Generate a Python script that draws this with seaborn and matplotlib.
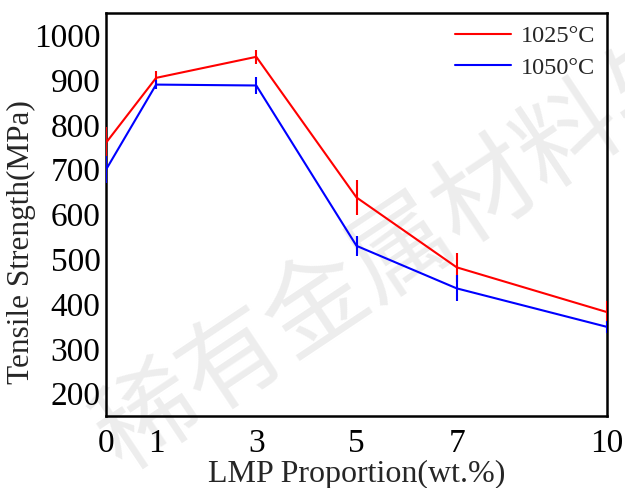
import matplotlib
matplotlib.use("Agg")
import matplotlib.pyplot as plt
import seaborn as sns
import pandas as pd

# LMP content (wt.%) and tensile strength (MPa) at two sintering temperatures
lmp = [0, 1, 3, 5, 7, 10]
ts_1025 = [760, 905, 952, 638, 482, 382]
err_1025 = [35, 15, 15, 40, 32, 25]
ts_1050 = [700, 890, 888, 530, 435, 349]
err_1050 = [30, 10, 19, 23, 29, 13]
series = ["1025°C", "1050°C"]
colors = ["#ff0000", "#0000ff"]
xticks = [0, 1, 3, 5, 7, 10]
yticks = [200, 300, 400, 500, 600, 700, 800, 900, 1000]

df = pd.DataFrame({
    "lmp": lmp * 2,
    "ts": ts_1025 + ts_1050,
    "err": err_1025 + err_1050,
    "temp": [series[0]] * len(lmp) + [series[1]] * len(lmp),
})

sns.set_style("white")
plt.rcParams["font.family"] = ["Liberation Serif", "DejaVu Serif"]

fig = plt.figure(figsize=(6.25, 4.88), dpi=100)
ax = fig.add_axes([0.1696, 0.1475, 0.8016, 0.826])
ax.patch.set_alpha(0)
ax.set_zorder(2)

# faint journal watermark behind the data
fig.text(402 / 625, 1 - 250 / 488, "稀有金属材料与", fontsize=73,
         family=["Noto Sans CJK SC"], weight="normal", color="#ededed",
         rotation=33.7, rotation_mode="anchor", ha="center", va="center",
         zorder=-5)

sns.lineplot(data=df, x="lmp", y="ts", hue="temp", palette=colors,
             linewidth=1.5, ax=ax, zorder=3)
for name, c in zip(series, colors):
    sub = df[df["temp"] == name]
    ax.errorbar(sub["lmp"], sub["ts"], yerr=sub["err"], fmt="none",
                ecolor=c, elinewidth=1.5, capsize=0, zorder=3)

ax.set_xlim(0, 10)
ax.set_ylim(150, 1050)
ax.set_xticks(xticks)
ax.set_yticks(yticks)
ax.tick_params(axis="both", direction="in", length=6, width=1.5,
               labelsize=24, colors="black", top=False, right=False)
ax.tick_params(axis="x", pad=9)
ax.tick_params(axis="y", pad=4)
for s in ax.spines.values():
    s.set_color("black")
    s.set_linewidth(1.8)

ax.set_xlabel("LMP Proportion(wt.%)", fontsize=23, labelpad=0.5)
ax.set_ylabel("Tensile Strength(MPa)", fontsize=22.5, va="center")
ax.yaxis.set_label_coords(-0.168, 0.432)

leg = ax.legend(loc="upper right", frameon=False, fontsize=17.5,
                handlelength=2.3, handletextpad=0.4, labelspacing=0.4,
                borderaxespad=0.1)
for h in leg.get_lines():
    h.set_linewidth(1.5)

fig.savefig("out.png", dpi=100)
